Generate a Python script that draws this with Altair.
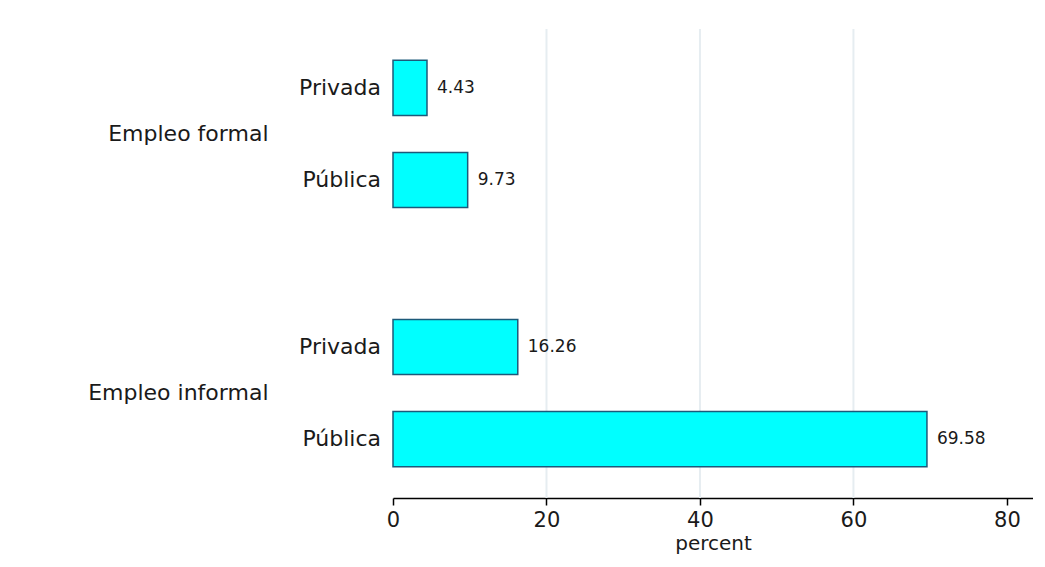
import altair as alt
import pandas as pd

# ---- data ----
groups = ["Empleo formal", "Empleo formal", "Empleo informal", "Empleo informal"]
sectors = ["Privada", "Pública", "Privada", "Pública"]
percent = [4.43, 9.73, 16.26, 69.58]
group_order = ["Empleo formal", "Empleo informal"]
sector_order = ["Privada", "Pública"]
tick_values = [0, 20, 40, 60, 80]
grid_values = [20, 40, 60]

df = pd.DataFrame({"grupo": groups, "sector": sectors, "percent": percent})
grid_df = pd.DataFrame({"g": grid_values})

FONT = "DejaVu Sans"
TXT = "#1a1a1a"

x_scale = alt.Scale(domain=[0, 83.4], nice=False, zero=True)
x_axis = alt.Axis(values=tick_values, grid=False, title="percent",
                  domainColor="black", domainWidth=1.5,
                  tickColor="black", tickSize=7, tickWidth=1.5,
                  labelFontSize=21, labelFont=FONT, labelColor=TXT,
                  labelPadding=4, labelFlush=False, labelOverlap=False,
                  titleFontSize=20, titleFont=FONT, titleColor=TXT,
                  titleFontWeight="normal", titlePadding=3)
y_enc = alt.Y("grupo:N", sort=group_order,
              scale=alt.Scale(paddingInner=0.3, paddingOuter=0.0554),
              axis=alt.Axis(title=None, domain=False, ticks=False, grid=False,
                            labelFontSize=22, labelFont=FONT, labelColor=TXT,
                            labelPadding=125, labelLimit=400))
yoff_enc = alt.YOffset("sector:N", sort=sector_order,
                       scale=alt.Scale(paddingInner=0.4, paddingOuter=0.185))

grid = alt.Chart(grid_df).mark_rule(color="#e6edf1", strokeWidth=2).encode(
    x=alt.X("g:Q", scale=x_scale, axis=x_axis)
)

bars = alt.Chart(df).mark_bar(color="#00ffff", stroke="#1c5a7a", strokeWidth=1.5).encode(
    x=alt.X("percent:Q", scale=x_scale, axis=x_axis),
    y=y_enc,
    yOffset=yoff_enc,
)

values = alt.Chart(df).mark_text(align="left", baseline="middle", dx=10,
                                 fontSize=17, font=FONT, color=TXT).encode(
    x=alt.X("percent:Q", scale=x_scale, axis=x_axis),
    y=y_enc,
    yOffset=yoff_enc,
    text=alt.Text("percent:Q", format=".2f"),
)

sector_labels = alt.Chart(df).mark_text(align="right", baseline="middle", dx=-12,
                                        fontSize=22, font=FONT, color=TXT).encode(
    x=alt.datum(0),
    y=y_enc,
    yOffset=yoff_enc,
    text="sector:N",
)

chart = alt.layer(grid, bars, values, sector_labels).properties(
    width=640, height=469,
    autosize=alt.AutoSizeParams(type="none"),
    padding={"left": 385, "top": 21, "right": 0, "bottom": 58},
    background="white",
).configure_view(stroke=None)

chart.save("out.html", embed_options={"renderer": "svg", "actions": False})
